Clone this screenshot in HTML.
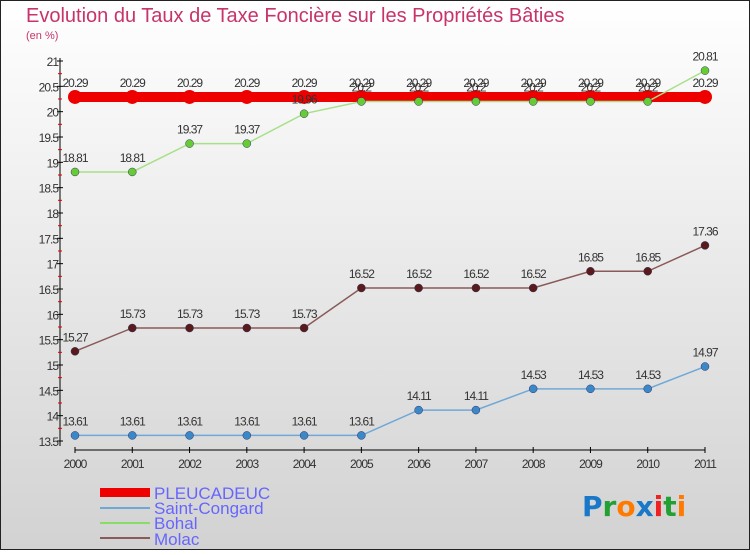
<!DOCTYPE html>
<html><head><meta charset="utf-8">
<style>
html,body{margin:0;padding:0;}
body{width:750px;height:550px;overflow:hidden;font-family:"Liberation Sans",sans-serif;}
</style></head>
<body>
<svg id="chart" width="750" height="550" xmlns="http://www.w3.org/2000/svg">
<defs>
<linearGradient id="bg" x1="0" y1="0" x2="0" y2="1">
<stop offset="0" stop-color="#ffffff"/><stop offset="1" stop-color="#d2d2d2"/>
</linearGradient>
</defs>
<rect x="0.5" y="0.5" width="749" height="549" fill="url(#bg)" stroke="#222"/>
<text x="26" y="22" font-size="20" fill="#c8336a">Evolution du Taux de Taxe Foncière sur les Propriétés Bâties</text>
<text x="26" y="39" font-size="11" fill="#c8336a">(en %)</text>
<g id="axes"></g>
<g id="series"></g>
<g id="legend">
<rect x="100" y="488" width="50" height="9" fill="#ee0000"/>
<text x="154" y="499" font-size="17" fill="#6666ff">PLEUCADEUC</text>
<line x1="100" y1="508" x2="150" y2="508" stroke="#6fa8d6" stroke-width="2"/>
<text x="154" y="514" font-size="17" fill="#6666ff">Saint-Congard</text>
<line x1="100" y1="523" x2="150" y2="523" stroke="#88dd66" stroke-width="2"/>
<text x="154" y="529" font-size="17" fill="#6666ff">Bohal</text>
<line x1="100" y1="538" x2="150" y2="538" stroke="#8a5a5a" stroke-width="2"/>
<text x="154" y="545" font-size="17" fill="#6666ff">Molac</text>
</g>
<g font-size="28" font-weight="bold" font-family="'DejaVu Sans',sans-serif">
<text x="582" y="516"><tspan fill="#1a78c8">P</tspan><tspan fill="#22a033">r</tspan><tspan fill="#ff7a00">o</tspan><tspan fill="#1a78c8">x</tspan><tspan fill="#ee2222">i</tspan><tspan fill="#22a033">t</tspan><tspan fill="#ff7a00">i</tspan></text>
</g>
</svg>
<script>
const years = [2000,2001,2002,2003,2004,2005,2006,2007,2008,2009,2010,2011];
const pleucadeuc = [20.29,20.29,20.29,20.29,20.29,20.29,20.29,20.29,20.29,20.29,20.29,20.29];
const saintCongard = [13.61,13.61,13.61,13.61,13.61,13.61,14.11,14.11,14.53,14.53,14.53,14.97];
const bohal = [18.81,18.81,19.37,19.37,19.96,20.2,20.2,20.2,20.2,20.2,20.2,20.81];
const molac = [15.27,15.73,15.73,15.73,15.73,16.52,16.52,16.52,16.52,16.85,16.85,17.36];
const yTicks = [13.5,14,14.5,15,15.5,16,16.5,17,17.5,18,18.5,19,19.5,20,20.5,21];

const NS="http://www.w3.org/2000/svg";
const yMin=13.5,yMax=21,yTop=61,yBot=441,xL=75,xR=705;
const xs=i=>xL+i*(xR-xL)/(years.length-1);
const ys=v=>yBot-(v-yMin)/(yMax-yMin)*(yBot-yTop);
function mk(tag,attrs,parent){const e=document.createElementNS(NS,tag);for(const k in attrs)e.setAttribute(k,attrs[k]);parent.appendChild(e);return e;}
const axes=document.getElementById('axes');
const ya=mk('line',{x1:60,y1:58,x2:60,y2:446,stroke:'#000'},axes);


const xa=mk('line',{x1:75,y1:450,x2:705,y2:450,stroke:'#000'},axes);


yTicks.forEach((t,i)=>{
  const y=ys(t);
  mk('line',{x1:57,y1:y,x2:63,y2:y,stroke:'#000'},axes);
  const tx=mk('text',{x:58,y:y+5,'font-size':12,'text-anchor':'end',fill:'#333','letter-spacing':'-1'},axes);
  tx.textContent=String(t);
  
  
  if(i<yTicks.length-1){const ym=ys(t+0.25);mk('line',{x1:58,y1:ym,x2:62,y2:ym,stroke:'#e00000'},axes);}
});
years.forEach((yr,i)=>{
  const x=xs(i);
  mk('line',{x1:x,y1:447,x2:x,y2:453,stroke:'#000'},axes);
  const tx=mk('text',{x:x,y:468,'font-size':12,'text-anchor':'middle',fill:'#333','letter-spacing':'-1'},axes);
  tx.textContent=String(yr);
  
  
});
const sg=document.getElementById('series');
function series(vals,name,color,fill,lw,r){
  const g=mk('g',{},sg);
  
  
  mk('polyline',{points:vals.map((v,i)=>xs(i)+','+ys(v)).join(' '),fill:'none',stroke:color,'stroke-width':lw},g);
  vals.forEach((v,i)=>{
    const c=mk('circle',{cx:xs(i),cy:ys(v),r:r,fill:fill,stroke:r>5?'none':'#336',"stroke-width":0.5},g);
    
    
    const t=mk('text',{x:xs(i),y:ys(v)-10,'font-size':12,'text-anchor':'middle',fill:'#333','letter-spacing':'-1'},g);
    t.textContent=String(v);
    
    
  });
}
series(saintCongard,'saint-congard','#6fa8d6','#3a88c8',1.5,4);
series(molac,'molac','#8a5a5a','#5a1a1a',1.5,4);
series(pleucadeuc,'pleucadeuc','#ee0000','#ee0000',10,7);
series(bohal,'bohal','#a8e088','#66cc33',1.5,4);
</script>
</body></html>
